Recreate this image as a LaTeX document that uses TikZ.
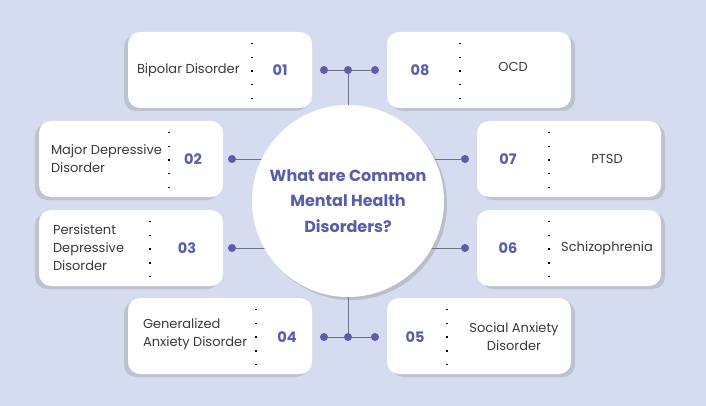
\documentclass[tikz,border=0pt]{standalone}
\usepackage{fontspec}
\setmainfont{Poppins}
\usetikzlibrary{calc, shadows, positioning}
\definecolor{bgblue}{HTML}{D5DCEF}
\definecolor{ink}{HTML}{5A5EA8}
\definecolor{txt}{HTML}{3A3A3A}
\definecolor{wire}{HTML}{6E7088}
\pgfdeclarelayer{back}
\pgfsetlayers{back,main}

\begin{document}
\begin{tikzpicture}[x=1pt,y=1pt]
	\tikzstyle{every node}+=[inner sep=0pt]
	\tikzstyle{card}=[fill=white, rounded corners=12pt, minimum width=184pt, minimum height=76pt]
	\tikzstyle{cardl}=[card, drop shadow={shadow xshift=-4pt, shadow yshift=-3pt, opacity=0.28}]
	\tikzstyle{cardr}=[card, drop shadow={shadow xshift=4pt, shadow yshift=-3pt, opacity=0.28}]
	\tikzstyle{num}=[font=\bfseries\fontsize{14.5}{16}\selectfont, text=ink]
	\tikzstyle{lbl}=[font=\fontsize{13}{18}\selectfont, text=txt, align=left]
	\tikzstyle{divider}=[line width=1.4pt, dash pattern=on 1.4pt off 12.3pt]
	\tikzstyle{pin}=[circle, fill=ink, minimum size=8pt]
	\tikzstyle{link}=[draw=wire, line width=0.8pt]
	% background
	\begin{pgfonlayer}{back}
	\fill [bgblue] (0,0) rectangle (706,-406);
	\end{pgfonlayer}
	\useasboundingbox (0,0) rectangle (706,-406);
	% hub
	\node [circle, fill=white, minimum size=192pt, drop shadow={shadow xshift=3pt, shadow yshift=-3pt, opacity=0.32},
	  font=\bfseries\fontsize{16}{25.5}\selectfont, text=ink, align=center] (hub) at (348,-201)
	  {What are Common\\Mental Health\\Disorders?};
	% cards
	\node [cardl] (b01) at (220,-70) {};
	\node [cardr] (b08) at (479,-70) {};
	\node [cardl] (b02) at (131,-159) {};
	\node [cardl] (b03) at (131,-248) {};
	\node [cardr] (b07) at (569,-159) {};
	\node [cardr] (b06) at (569,-248) {};
	\node [cardl] (b04) at (220,-336) {};
	\node [cardr] (b05) at (479,-336) {};
	% card contents
	\node [lbl, anchor=west] (t01) at ([xshift=9pt]b01.west) {Bipolar Disorder};
	\node [num] (n01) at ([xshift=60pt]b01.center) {01};
	\draw [divider] ([xshift=32pt,yshift=27pt]b01.center) -- ++(0,-56);
	\node [num] (n08) at ([xshift=-59pt]b08.center) {08};
	\node [lbl] (t08) at ([xshift=34pt,yshift=3pt]b08.center) {OCD};
	\draw [divider] ([xshift=-19pt,yshift=27pt]b08.center) -- ++(0,-56);
	\node [lbl, anchor=west] (t02) at ([xshift=12pt]b02.west) {Major Depressive\\Disorder};
	\node [num] (n02) at ([xshift=62pt]b02.center) {02};
	\draw [divider] ([xshift=38pt,yshift=27pt]b02.center) -- ++(0,-56);
	\node [lbl, anchor=west] (t03) at ([xshift=14pt]b03.west) {Persistent\\Depressive\\Disorder};
	\node [num] (n03) at ([xshift=56pt]b03.center) {03};
	\draw [divider] ([xshift=19pt,yshift=27pt]b03.center) -- ++(0,-56);
	\node [num] (n07) at ([xshift=-61pt]b07.center) {07};
	\node [lbl] (t07) at ([xshift=38pt]b07.center) {PTSD};
	\draw [divider] ([xshift=-20pt,yshift=27pt]b07.center) -- ++(0,-56);
	\node [num] (n06) at ([xshift=-61pt]b06.center) {06};
	\node [lbl] (t06) at ([xshift=38pt]b06.center) {Schizophrenia};
	\draw [divider] ([xshift=-20pt,yshift=27pt]b06.center) -- ++(0,-56);
	\node [lbl, anchor=west] (t04) at ([xshift=15pt,yshift=2pt]b04.west) {Generalized\\Anxiety Disorder};
	\node [num] (n04) at ([xshift=67pt,yshift=-1pt]b04.center) {04};
	\draw [divider] ([xshift=36pt,yshift=27pt]b04.center) -- ++(0,-56);
	\node [num] (n05) at ([xshift=-64pt,yshift=-1pt]b05.center) {05};
	\node [lbl, align=center] (t05) at ([xshift=35pt,yshift=-1pt]b05.center) {Social Anxiety\\Disorder};
	\draw [divider] ([xshift=-32pt,yshift=27pt]b05.center) -- ++(0,-56);
	% pins
	\node [pin] (d01) at (324,-70) {};
	\node [pin] (dt) at (348,-70) {};
	\node [pin] (d08) at (375,-70) {};
	\node [pin] (d02) at (232,-159) {};
	\node [pin] (d03) at (232,-248) {};
	\node [pin] (d07) at (465,-159) {};
	\node [pin] (d06) at (465,-248) {};
	\node [pin] (d04) at (324,-337) {};
	\node [pin] (db) at (348,-337) {};
	\node [pin] (d05) at (375,-337) {};
	% links
	\begin{pgfonlayer}{back}
	\draw [link] (d01) -- (d08);
	\draw [link] (d04) -- (d05);
	\draw [link] (dt) -- (hub.center);
	\draw [link] (db) -- (hub.center);
	\draw [link] (d02) -- (d02 -| hub.center);
	\draw [link] (d03) -- (d03 -| hub.center);
	\draw [link] (d07) -- (d07 -| hub.center);
	\draw [link] (d06) -- (d06 -| hub.center);
	\end{pgfonlayer}
\end{tikzpicture}
\end{document}
